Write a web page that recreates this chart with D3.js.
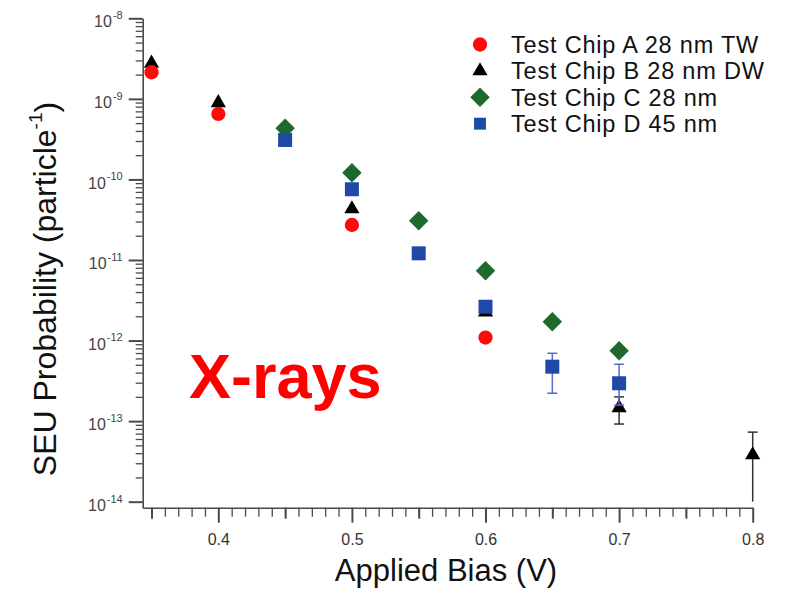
<!DOCTYPE html>
<html>
<head>
<meta charset="utf-8">
<script src="https://cdn.jsdelivr.net/npm/d3@7"></script>
<style>
  html, body { margin: 0; padding: 0; background: #fff; }
  svg { display: block; font-family: "Liberation Sans", Arial, Helvetica, sans-serif; }
</style>
</head>
<body>
<svg id="chart" width="788" height="589"></svg>
<script>
// Applied bias (V) and SEU probability per particle for each test chip
const biasA = [0.35, 0.40, 0.50, 0.60];
const probA = [2.14e-9, 6.5e-10, 2.72e-11, 1.09e-12];

const biasB = [0.35, 0.40, 0.50, 0.60, 0.70, 0.80];
const probB = [2.76e-9, 8.95e-10, 4.3e-11, 2.26e-12, 1.46e-13, 3.8e-14];
const errBiasB = [0.70, 0.80];
const errLowB = [9.2e-14, 1.0e-14];
const errHighB = [2.0e-13, 7.3e-14];

const biasC = [0.45, 0.50, 0.55, 0.60, 0.65, 0.70];
const probC = [4.31e-10, 1.21e-10, 3.07e-11, 7.36e-12, 1.71e-12, 7.48e-13];

const biasD = [0.45, 0.50, 0.55, 0.60, 0.65, 0.70];
const probD = [3.09e-10, 7.55e-11, 1.21e-11, 2.63e-12, 4.74e-13, 2.95e-13];
const errBiasD = [0.65, 0.70];
const errLowD = [2.22e-13, 1.58e-13];
const errHighD = [6.95e-13, 5.08e-13];

const seriesNames = ["Test Chip A 28 nm TW", "Test Chip B 28 nm DW", "Test Chip C 28 nm", "Test Chip D 45 nm"];

const xTickValues = [0.4, 0.5, 0.6, 0.7, 0.8];
const xTickLabels = ["0.4", "0.5", "0.6", "0.7", "0.8"];
const yTickExponents = [-8, -9, -10, -11, -12, -13, -14];

const xTitle = "Applied Bias (V)";
const yTitle = "SEU Probability (particle";
const note = "X-rays";

// ---- layout ----
const svg = d3.select("#chart");
const plotLeft = 142.7, plotRight = 752.7, plotTop = 18.3, plotBottom = 507.7;

const x = d3.scaleLinear().domain([0.3434, 0.80]).range([plotLeft, plotRight]);
// 1e-8 sits at the top edge, 1e-14 sits 6px above the bottom edge
const y = d3.scaleLog().domain([8.42e-15, 1e-8]).range([plotBottom, plotTop]);

const axisColor = "#4a4a4a";

// ---- x axis ----
const xMinor = d3.range(35, 81).map(v => v / 100).filter(v => Math.round(v * 100) % 10 !== 0);
const xMid = xMinor.filter(v => Math.round(v * 100) % 5 === 0);
const xg = svg.append("g").attr("transform", `translate(0,${plotBottom})`);
xg.call(d3.axisBottom(x).tickValues(xMinor).tickSize(9).tickSizeOuter(0).tickFormat(""));
const xgMid = svg.append("g").attr("transform", `translate(0,${plotBottom})`);
xgMid.call(d3.axisBottom(x).tickValues(xMid).tickSize(11).tickSizeOuter(0).tickFormat(""));
xgMid.select(".domain").remove();
xgMid.selectAll(".tick line").attr("stroke-width", 2);
const xgMaj = svg.append("g").attr("transform", `translate(0,${plotBottom})`);
xgMaj.call(d3.axisBottom(x).tickValues(xTickValues).tickSize(15).tickSizeOuter(0)
  .tickFormat((d, i) => xTickLabels[i]));
xgMaj.select(".domain").remove();
xgMaj.selectAll(".tick line").attr("stroke-width", 2);
xgMaj.selectAll(".tick text")
  .attr("y", 26).attr("dy", "0.71em")
  .attr("font-size", 16).attr("fill", "#333")
  .attr("font-family", "Liberation Sans, Arial, sans-serif");

// ---- y axis ----
const yMinor = [];
yTickExponents.slice(1).forEach(e => {
  for (let m = 2; m <= 9; m++) yMinor.push(m * Math.pow(10, e));
});
const yg = svg.append("g").attr("transform", `translate(${plotLeft},0)`);
yg.call(d3.axisLeft(y).tickValues(yMinor).tickSize(7).tickSizeOuter(0).tickFormat(""));
const ygMaj = svg.append("g").attr("transform", `translate(${plotLeft},0)`);
ygMaj.call(d3.axisLeft(y).tickValues(yTickExponents.map(e => Math.pow(10, e)))
  .tickSize(14).tickSizeOuter(0).tickFormat(""));
ygMaj.select(".domain").remove();
ygMaj.selectAll(".tick line").attr("stroke-width", 2);
ygMaj.selectAll(".tick").each(function (d, i) {
  const t = d3.select(this).append("text")
    .attr("x", -20).attr("y", 3).attr("dy", "0.35em")
    .attr("text-anchor", "end").attr("fill", "#444")
    .attr("font-size", 16).attr("font-family", "Liberation Sans, Arial, sans-serif");
  t.append("tspan").text("10");
  t.append("tspan").attr("font-size", 11).attr("dy", "-0.75em").attr("dx", 1)
    .text(String(yTickExponents[i]));
});

[xg, yg].forEach(g => {
  g.selectAll("path.domain").attr("stroke", axisColor).attr("stroke-width", 1.6);
});
svg.selectAll(".tick line").attr("stroke", axisColor);
svg.selectAll(".tick line:not([stroke-width])").attr("stroke-width", 1.3);

// ---- axis titles ----
svg.append("text")
  .attr("x", 446).attr("y", 581)
  .attr("text-anchor", "middle").attr("font-size", 31).attr("fill", "#111")
  .text(xTitle);

const yt = svg.append("text")
  .attr("transform", "translate(56,289) rotate(-90)")
  .attr("text-anchor", "middle").attr("font-size", 32).attr("fill", "#111");
yt.append("tspan").text(yTitle);
yt.append("tspan").attr("font-size", 19).attr("dy", "-0.75em").text("-1");
yt.append("tspan").attr("dy", "0.47em").text(")");

// ---- markers ----
const colA = "#ff0a0a", colB = "#000000", colC = "#1e6a2e", colD = "#1f48a8";
const symA = d3.symbol().type(d3.symbolCircle).size(160)();
const symB = d3.symbol().type(d3.symbolTriangle).size(100)();
const symC = d3.symbol().type(d3.symbolSquare).size(190)();
const symD = d3.symbol().type(d3.symbolSquare).size(196)();

// error bars
function errorBars(bias, lo, hi, color) {
  const g = svg.append("g").attr("stroke", color).attr("stroke-width", 1.5);
  bias.forEach((b, i) => {
    const cx = x(b);
    g.append("line").attr("x1", cx).attr("x2", cx).attr("y1", y(lo[i])).attr("y2", y(hi[i]));
    g.append("line").attr("x1", cx - 5).attr("x2", cx + 5).attr("y1", y(hi[i])).attr("y2", y(hi[i]));
    if (lo[i] > 1.0e-14) {
      g.append("line").attr("x1", cx - 5).attr("x2", cx + 5).attr("y1", y(lo[i])).attr("y2", y(lo[i]));
    }
  });
}

function points(bias, prob, path, color, rot) {
  svg.append("g").selectAll("path")
    .data(bias.map((b, i) => [b, prob[i]]))
    .join("path")
    .attr("d", path)
    .attr("fill", color)
    .attr("transform", d => `translate(${x(d[0])},${y(d[1])})` + (rot ? " rotate(45)" : ""));
}

errorBars(errBiasB, errLowB, errHighB, "#333");
points(biasB, probB, symB, colB, false);
points(biasC, probC, symC, colC, true);
errorBars(errBiasD, errLowD, errHighD, "#5a68d6");
points(biasD, probD, symD, colD, false);
points(biasA, probA, symA, colA, false);

// ---- legend ----
const legendSyms = [[symA, colA, false], [symB, colB, false], [symC, colC, true], [symD, colD, false]];
const lg = svg.append("g");
seriesNames.forEach((name, i) => {
  const ly = 44.5 + i * 26.4;
  const [p, c, r] = legendSyms[i];
  lg.append("path").attr("d", p).attr("fill", c)
    .attr("transform", `translate(480,${ly})` + (r ? " rotate(45)" : "") + (i === 3 ? " scale(0.85)" : ""));
  lg.append("text").attr("x", 511).attr("y", ly).attr("dy", "0.36em")
    .attr("font-size", 23.5).attr("letter-spacing", 0.8).attr("fill", "#111")
    .text(name);
});

// ---- annotation ----
svg.append("text")
  .attr("x", 189).attr("y", 398)
  .attr("font-size", 63).attr("font-weight", "bold").attr("fill", "#ff0000")
  .text(note);
</script>
</body>
</html>
